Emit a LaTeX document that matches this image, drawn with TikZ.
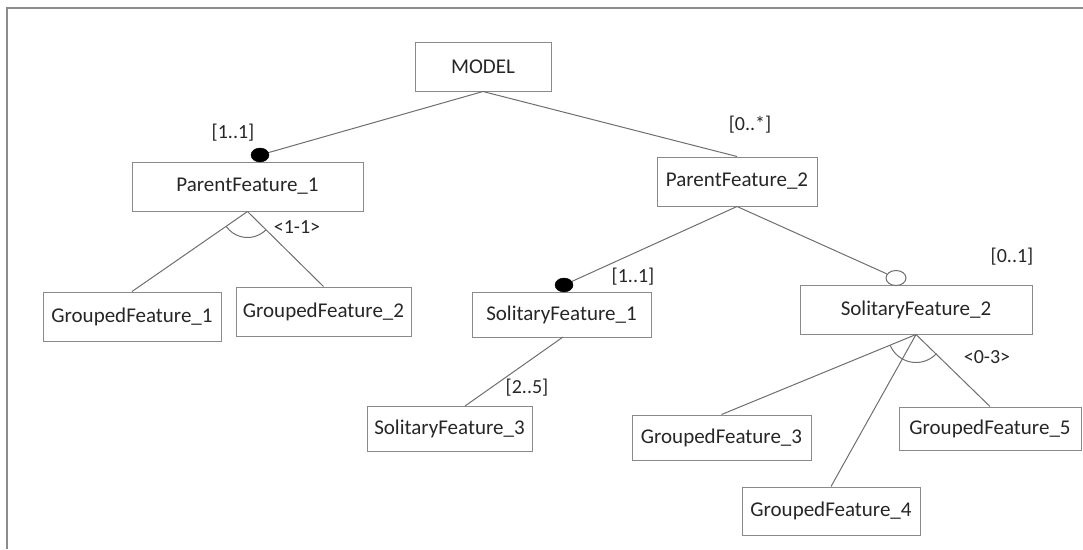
\documentclass[tikz,border=0pt]{standalone}
\usepackage{fontspec}
\setmainfont{Carlito}
\usetikzlibrary{shapes.geometric}
\begin{document}
\begin{tikzpicture}[x=1pt,y=-1pt,
  box/.style={draw=boxgray,line width=1pt,inner sep=0pt,text=txtgray,
    font=\fontsize{21}{24}\selectfont},
  link/.style={draw=linegray,line width=1pt},
  mult/.style={text=txtgray,font=\fontsize{20}{23}\selectfont,inner sep=0pt},
  mandatory/.style={ellipse,fill=black,draw=black,minimum width=18pt,minimum height=14pt,inner sep=0pt},
  optional/.style={ellipse,fill=white,draw=linegray,line width=1pt,minimum width=20pt,minimum height=15pt,inner sep=0pt}]
\definecolor{boxgray}{HTML}{8A8A8A}
\definecolor{linegray}{HTML}{6E6E6E}
\definecolor{txtgray}{HTML}{262626}
\definecolor{framegray}{HTML}{8C8C8C}
\useasboundingbox (0,0) rectangle (1083,549);
% outer frame (top and left edges)
\draw[framegray,line width=2pt] (7,549) -- (7,8) -- (1083,8);

% feature boxes
\node[box,minimum width=136pt,minimum height=49pt] (model) at (483,66.5) {MODEL};
\node[box,minimum width=231pt,minimum height=49pt] (pf1) at (247.5,186.5) {ParentFeature\_1};
\node[box,minimum width=160pt,minimum height=49pt] (pf2) at (737,181.5) {ParentFeature\_2};
\node[box,minimum width=179pt,minimum height=45pt] (sf1) at (561.5,314.5) {SolitaryFeature\_1};
\node[box,minimum width=232pt,minimum height=49pt] (sf2) at (916,309.5) {SolitaryFeature\_2};
\node[box,minimum width=178pt,minimum height=49pt] (gf1) at (132,316.5) {GroupedFeature\_1};
\node[box,minimum width=175pt,minimum height=49pt] (gf2) at (323.5,311.5) {GroupedFeature\_2};
\node[box,minimum width=165pt,minimum height=45pt] (sf3) at (449.5,428.5) {SolitaryFeature\_3};
\node[box,minimum width=179pt,minimum height=45pt] (gf3) at (721.5,437.5) {GroupedFeature\_3};
\node[box,minimum width=178pt,minimum height=48pt] (gf4) at (831,511) {GroupedFeature\_4};
\node[box,minimum width=182pt,minimum height=43pt] (gf5) at (990,428.5) {GroupedFeature\_5};

% attachment points
\coordinate (sf3top) at (465,406);
\coordinate (sf1bot) at (563,337);

% connectors
\coordinate (d1) at (260,155);
\coordinate (d2) at (564,285);
\draw[link] (model.south) -- (d1);
\draw[link] (model.south) -- (pf2.north);
\draw[link] (pf2.south) -- (d2);
\node[mandatory] (m1) at (d1) {};
\node[mandatory] (m2) at (d2) {};
\node[optional] (o1) at (896,278) {};
\draw[link] (pf2.south) -- (o1);

\draw[link] (pf1.south) -- (gf1.north);
\draw[link] (pf1.south) -- (gf2.north);
\draw[link] (sf1bot) -- (sf3top);
\draw[link] (sf2.south) -- (gf3.north);
\draw[link] (sf2.south) -- (gf4.north);
\draw[link] (sf2.south) -- (gf5.north);

% group arcs
\draw[link] ([shift={(44.3:26)}]pf1.south) arc[start angle=44.3,end angle=144.6,radius=26];
\draw[link] ([shift={(43.1:28)}]sf2.south) arc[start angle=43.1,end angle=157.2,radius=28];

% cardinalities
\node[mult] (c1) at (233,133) {[1..1]};
\node[mult] (c2) at (750,125) {[0..*]};
\node[mult] (c3) at (297,227) {<1-1>};
\node[mult] (c4) at (633,277) {[1..1]};
\node[mult] (c5) at (1012,257) {[0..1]};
\node[mult] (c6) at (987,357) {<0-3>};
\node[mult] (c7) at (527,388) {[2..5]};
\end{tikzpicture}
\end{document}
